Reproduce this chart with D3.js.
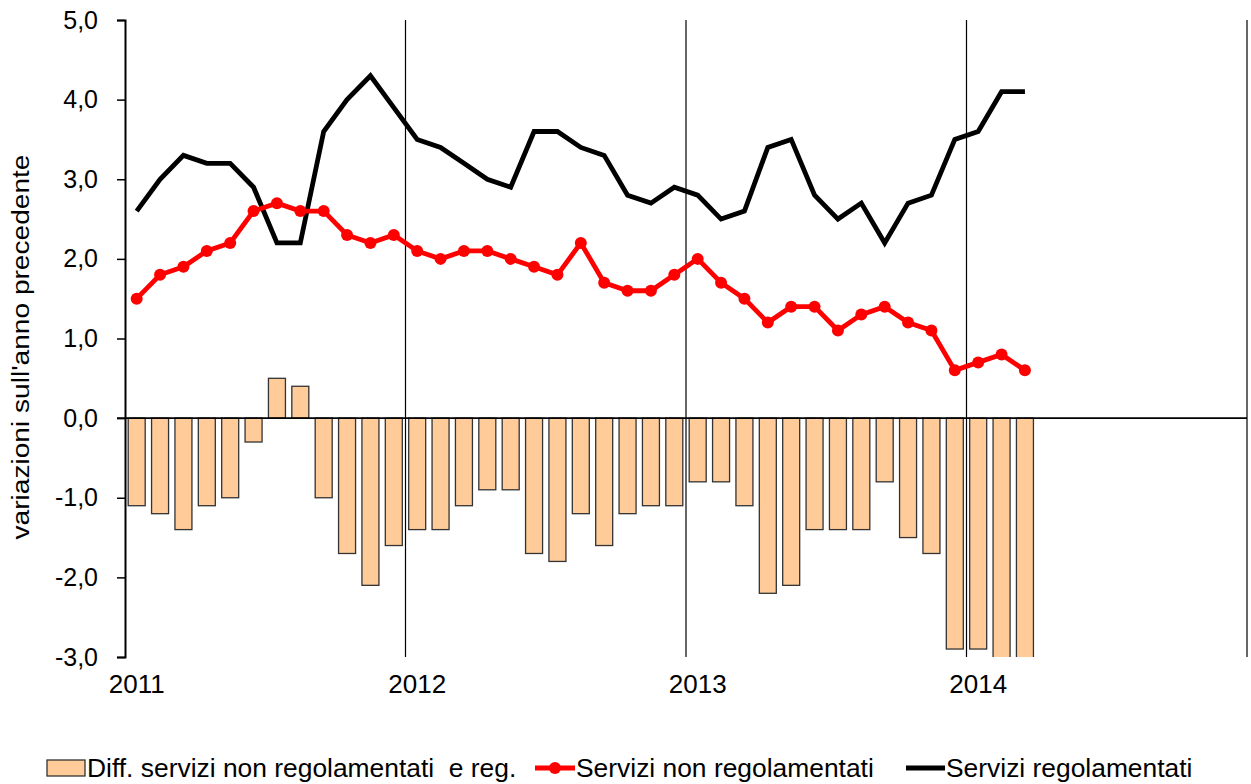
<!DOCTYPE html>
<html>
<head>
<meta charset="utf-8">
<script src="https://cdn.jsdelivr.net/npm/d3@7"></script>
<style>
  body { margin: 0; background: #fff; }
  text { font-family: "Liberation Sans", Arial, sans-serif; fill: #000; }
</style>
</head>
<body>
<svg></svg>
<script>
const size = {w: 1251, h: 784};
const margin = {t: 20, r: 4, b: 127, l: 125};

// Jan 2011 .. Mar 2014, monthly
const years = [2011, 2012, 2013, 2014];
const diffValues = [-1.1, -1.2, -1.4, -1.1, -1.0, -0.3, 0.5, 0.4, -1.0, -1.7, -2.1, -1.6,
                    -1.4, -1.4, -1.1, -0.9, -0.9, -1.7, -1.8, -1.2, -1.6, -1.2, -1.1, -1.1,
                    -0.8, -0.8, -1.1, -2.2, -2.1, -1.4, -1.4, -1.4, -0.8, -1.5, -1.7, -2.9,
                    -2.9, -3.3, -3.5];
const nonRegValues = [1.5, 1.8, 1.9, 2.1, 2.2, 2.6, 2.7, 2.6, 2.6, 2.3, 2.2, 2.3,
                      2.1, 2.0, 2.1, 2.1, 2.0, 1.9, 1.8, 2.2, 1.7, 1.6, 1.6, 1.8,
                      2.0, 1.7, 1.5, 1.2, 1.4, 1.4, 1.1, 1.3, 1.4, 1.2, 1.1, 0.6,
                      0.7, 0.8, 0.6];
const regValues = [2.6, 3.0, 3.3, 3.2, 3.2, 2.9, 2.2, 2.2, 3.6, 4.0, 4.3, 3.9,
                   3.5, 3.4, 3.2, 3.0, 2.9, 3.6, 3.6, 3.4, 3.3, 2.8, 2.7, 2.9,
                   2.8, 2.5, 2.6, 3.4, 3.5, 2.8, 2.5, 2.7, 2.2, 2.7, 2.8, 3.5,
                   3.6, 4.1, 4.1];
const yTicks = [-3, -2, -1, 0, 1, 2, 3, 4, 5];
const seriesNames = ['Diff. servizi non regolamentati  e reg.', 'Servizi non regolamentati', 'Servizi regolamentati'];

const svg = d3.select('svg')
    .attr('width', size.w)
    .attr('height', size.h);

const x = d3.scaleLinear()
    .domain([0, 48])
    .range([margin.l, size.w - margin.r]);
const y = d3.scaleLinear()
    .domain([-3, 5])
    .range([size.h - margin.b, margin.t]);

// comma decimals, plain hyphen for negatives
const fmt = d => d.toFixed(1).replace('.', ',');

svg.append('clipPath').attr('id', 'plot-clip')
    .append('rect')
    .attr('x', x(0)).attr('y', y(5))
    .attr('width', x(48) - x(0))
    .attr('height', y(-3) - y(5));

// year gridlines
svg.append('g')
    .selectAll('line')
    .data([1, 2, 3, 4])
    .join('line')
    .attr('x1', d => x(d * 12)).attr('x2', d => x(d * 12))
    .attr('y1', y(5)).attr('y2', y(-3))
    .attr('stroke', '#000')
    .attr('stroke-width', 1.2);

// bars
const barW = 17;
svg.append('g')
    .attr('clip-path', 'url(#plot-clip)')
    .selectAll('rect')
    .data(diffValues)
    .join('rect')
    .attr('x', (d, i) => x(i + 0.5) - barW / 2)
    .attr('y', d => y(Math.max(0, d)))
    .attr('width', barW)
    .attr('height', d => Math.abs(y(d) - y(0)))
    .attr('fill', '#ffcc99')
    .attr('stroke', '#333')
    .attr('stroke-width', 1.3);

// zero line
svg.append('line')
    .attr('x1', x(0) - 8).attr('x2', x(48))
    .attr('y1', y(0)).attr('y2', y(0))
    .attr('stroke', '#000')
    .attr('stroke-width', 1.6);

// y axis
const yAxis = svg.append('g')
    .attr('transform', `translate(${x(0)},0)`)
    .call(d3.axisLeft(y).tickValues(yTicks).tickFormat(fmt).tickSize(8).tickPadding(19));
yAxis.select('.domain').attr('stroke-width', 2);
yAxis.selectAll('.tick line').attr('stroke-width', 1.5);
yAxis.selectAll('text')
    .style('font-family', '"Liberation Sans", Arial, sans-serif')
    .style('font-size', '25px');

// year labels
svg.append('g')
    .selectAll('text')
    .data(years)
    .join('text')
    .attr('x', (d, i) => x(i * 12 + 0.5))
    .attr('y', 693)
    .attr('text-anchor', 'middle')
    .style('font-size', '26px')
    .text(d => d);

// lines
const line = d3.line()
    .x((d, i) => x(i + 0.5))
    .y(d => y(d));

svg.append('path')
    .datum(regValues)
    .attr('d', line)
    .attr('fill', 'none')
    .attr('stroke', '#000')
    .attr('stroke-width', 4.8);

svg.append('path')
    .datum(nonRegValues)
    .attr('d', line)
    .attr('fill', 'none')
    .attr('stroke', '#ff0000')
    .attr('stroke-width', 4.8);

svg.append('g')
    .selectAll('circle')
    .data(nonRegValues)
    .join('circle')
    .attr('cx', (d, i) => x(i + 0.5))
    .attr('cy', d => y(d))
    .attr('r', 6)
    .attr('fill', '#ff0000');

// y title
svg.append('text')
    .attr('transform', `translate(29,347) rotate(-90)`)
    .attr('text-anchor', 'middle')
    .attr('textLength', 385)
    .attr('lengthAdjust', 'spacingAndGlyphs')
    .style('font-size', '23px')
    .text('variazioni sull\'anno precedente');

// legend
const legY = 768;
const legend = svg.append('g').style('font-size', '26.4px');
legend.append('rect')
    .attr('x', 47).attr('y', legY - 8)
    .attr('width', 38).attr('height', 16)
    .attr('fill', '#ffcc99')
    .attr('stroke', '#333')
    .attr('stroke-width', 1.3);
legend.append('text')
    .attr('x', 87).attr('y', legY + 9)
    .style('white-space', 'pre')
    .text(seriesNames[0]);

legend.append('line')
    .attr('x1', 535).attr('x2', 575)
    .attr('y1', legY).attr('y2', legY)
    .attr('stroke', '#ff0000').attr('stroke-width', 4.8);
legend.append('circle')
    .attr('cx', 555).attr('cy', legY).attr('r', 6)
    .attr('fill', '#ff0000');
legend.append('text')
    .attr('x', 576).attr('y', legY + 9)
    .text(seriesNames[1]);

legend.append('line')
    .attr('x1', 906).attr('x2', 945)
    .attr('y1', legY).attr('y2', legY)
    .attr('stroke', '#000').attr('stroke-width', 4.8);
legend.append('text')
    .attr('x', 946).attr('y', legY + 9)
    .text(seriesNames[2]);
</script>
</body>
</html>
